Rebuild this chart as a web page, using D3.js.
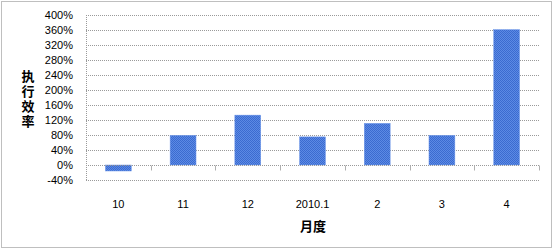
<!DOCTYPE html>
<meta charset="utf-8">
<style>
    body { margin: 0; background: #fff; }
    text { font-family: "Liberation Sans", Arial, sans-serif; fill: #000; }
    .grid line { stroke: #9a9a9a; stroke-dasharray: 1,1; }
    .axis--x path, .axis--y path { display: none; }
</style>

<svg width="554" height="250"></svg>

<script src="https://cdn.jsdelivr.net/npm/d3@7/dist/d3.min.js"></script>
<script>

    // DATA
    var months = ["10", "11", "12", "2010.1", "2", "3", "4"];
    var rates = [-16, 79, 133, 75, 111, 79, 361];
    var yTicks = [-40, 0, 40, 80, 120, 160, 200, 240, 280, 320, 360, 400];

    // SETUP
    var svg = d3.select("svg"),
        margin = { top: 15, right: 15, bottom: 70, left: 86 },
        width = 539 - margin.left,
        height = 180 - margin.top;

    // outer dotted frame
    svg.append("rect")
        .attr("x", 1.5).attr("y", 1.5)
        .attr("width", 550).attr("height", 246)
        .attr("fill", "none")
        .attr("stroke", "#7f7f7f")
        .attr("stroke-dasharray", "1,1");

    var defs = svg.append("defs");
    var pat = defs.append("pattern")
        .attr("id", "checker")
        .attr("width", 2).attr("height", 2)
        .attr("patternUnits", "userSpaceOnUse");
    pat.append("rect").attr("width", 2).attr("height", 2).attr("fill", "#3b6bd0");
    pat.append("rect").attr("width", 1).attr("height", 1).attr("fill", "#5c8ae4");
    pat.append("rect").attr("x", 1).attr("y", 1).attr("width", 1).attr("height", 1).attr("fill", "#5c8ae4");

    var x = d3.scaleBand().domain(months).range([0, width]).paddingInner(0.6).paddingOuter(0.3),
        xb = d3.scaleBand().domain(months).range([0, width]),
        y = d3.scaleLinear().domain([-40, 400]).range([height, 0]);

    var g = svg.append("g")
        .attr("transform", "translate(" + margin.left + "," + margin.top + ")");

    // gridlines
    g.append("g")
        .attr("class", "grid")
        .selectAll("line")
        .data(yTicks)
        .enter().append("line")
        .attr("x1", 0).attr("x2", width)
        .attr("y1", function (d) { return Math.round(y(d)) + 0.5; })
        .attr("y2", function (d) { return Math.round(y(d)) + 0.5; });

    // left axis line
    g.append("line")
        .attr("x1", 0.5).attr("x2", 0.5)
        .attr("y1", 0).attr("y2", height)
        .attr("stroke", "#9a9a9a")
        .attr("stroke-dasharray", "1,1");

    // y axis labels
    g.append("g")
        .attr("class", "axis axis--y")
        .call(d3.axisLeft(y).tickValues(yTicks).tickSize(0).tickPadding(13)
            .tickFormat(function (d) { return d + "%"; }))
        .selectAll("text")
        .style("font-size", "11px")
        .style("font-family", "\"Liberation Sans\", Arial, sans-serif");

    // bars
    g.selectAll(".bar")
        .data(rates)
        .enter().append("rect")
        .attr("class", "bar")
        .attr("x", function (d, i) { return x(months[i]); })
        .attr("y", function (d) { return y(Math.max(0, d)); })
        .attr("width", x.bandwidth())
        .attr("height", function (d) { return Math.abs(y(d) - y(0)); })
        .attr("fill", "url(#checker)")
        .attr("stroke", "#6f98ea")
        .attr("stroke-width", 0.5);

    // zero axis with tick marks between categories
    var zeroY = Math.round(y(0)) + 0.5;
    g.append("line")
        .attr("x1", 0).attr("x2", width)
        .attr("y1", zeroY).attr("y2", zeroY)
        .attr("stroke", "#9a9a9a")
        .attr("stroke-dasharray", "1,1");
    g.selectAll(".xtick")
        .data(months.slice(1).concat(["end"]))
        .enter().append("line")
        .attr("class", "xtick")
        .attr("x1", function (d, i) { return Math.round(xb.step() * (i + 1)) + 0.5; })
        .attr("x2", function (d, i) { return Math.round(xb.step() * (i + 1)) + 0.5; })
        .attr("y1", zeroY).attr("y2", zeroY + 5)
        .attr("stroke", "#b0b0b0");

    // x labels
    g.append("g")
        .attr("class", "axis axis--x")
        .attr("transform", "translate(0," + (height + 17) + ")")
        .call(d3.axisBottom(xb).tickSize(0))
        .selectAll("text")
        .style("font-size", "11px")
        .style("font-family", "\"Liberation Sans\", Arial, sans-serif");

    // axis titles
    svg.append("text")
        .attr("x", 28).attr("y", 70)
        .style("writing-mode", "vertical-rl")
        .style("text-orientation", "upright")
        .style("letter-spacing", "2px")
        .style("font-family", "\"Noto Sans CJK SC\", sans-serif")
        .style("font-size", "13px")
        .style("font-weight", "bold")
        .text("执行效率");

    svg.append("text")
        .attr("x", 313).attr("y", 231)
        .attr("text-anchor", "middle")
        .style("font-family", "\"Noto Sans CJK SC\", sans-serif")
        .style("font-size", "13px")
        .style("font-weight", "bold")
        .text("月度");

</script>
